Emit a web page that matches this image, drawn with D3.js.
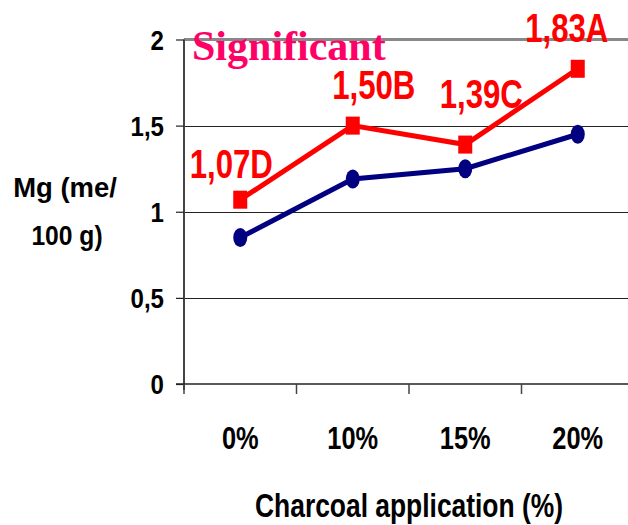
<!DOCTYPE html>
<html>
<head>
<meta charset="utf-8">
<script src="https://cdn.jsdelivr.net/npm/d3@7"></script>
<style>
  html, body { margin: 0; padding: 0; background: #fff; }
  svg { display: block; }
</style>
</head>
<body>
<svg id="chart" width="628" height="525"></svg>
<script>
// Charcoal application rates and Mg content (me/100 g)
const categories = ["0%", "10%", "15%", "20%"];
const seriesBlue = [0.85, 1.19, 1.25, 1.45];
const seriesRed = [1.07, 1.50, 1.39, 1.83];
const redLabels = ["1,07D", "1,50B", "1,39C", "1,83A"];
const yTicks = [0, 0.5, 1, 1.5, 2];
const yTickLabels = ["0", "0,5", "1", "1,5", "2"];

const sans = "'Liberation Sans', Arial, sans-serif";

// squeeze text horizontally around its anchor to get a condensed bold face
function condense(sel, factor) {
  sel.each(function () {
    const t = d3.select(this);
    const px = +t.attr("x") || 0, py = +t.attr("y") || 0;
    const prev = t.attr("transform") || "";
    t.attr("x", 0).attr("y", 0)
      .attr("transform", `${prev} translate(${px},${py}) scale(${factor},1)`);
  });
}

const svg = d3.select("#chart");
const plotLeft = 184, plotRight = 634, plotTop = 39.5, plotBottom = 384;

const x = d3.scaleBand().domain(categories).range([plotLeft, plotRight]).padding(0);
const y = d3.scaleLinear().domain([0, 2]).range([plotBottom, plotTop]);

const g = svg.append("g");

// horizontal gridlines
g.selectAll("line.grid")
  .data(yTicks.filter(t => t > 0 && t < 2))
  .join("line")
  .attr("x1", plotLeft).attr("x2", 628)
  .attr("y1", d => Math.round(y(d)) + 0.5).attr("y2", d => Math.round(y(d)) + 0.5)
  .attr("stroke", "#222").attr("stroke-width", 1.2);

// top border of the plot area
g.append("line")
  .attr("x1", plotLeft).attr("x2", 628)
  .attr("y1", y(2)).attr("y2", y(2))
  .attr("stroke", "#888").attr("stroke-width", 3);

// y axis
const yAxis = d3.axisLeft(y).tickValues(yTicks)
  .tickFormat((d, i) => yTickLabels[i]).tickSize(8).tickPadding(12);
const ya = g.append("g").attr("transform", `translate(${plotLeft},0)`).call(yAxis);
ya.select(".domain").attr("stroke", "#444").attr("stroke-width", 2)
  .attr("d", `M0,${y(2)}V${plotBottom + 6}`);
ya.selectAll(".tick line").attr("stroke", "#222").attr("stroke-width", 1.2);
ya.selectAll(".tick text")
  .attr("font-family", sans).attr("font-weight", "bold")
  .attr("font-size", 28).attr("fill", "#000").attr("dy", "0.35em")
  .call(condense, 0.86);

// x axis with tick marks at category boundaries
const xa = g.append("g").attr("transform", `translate(0,${plotBottom})`);
xa.append("line").attr("x1", plotLeft - 8).attr("x2", 628)
  .attr("y1", 0).attr("y2", 0).attr("stroke", "#222").attr("stroke-width", 1.5);
xa.selectAll("line.xt")
  .data(categories)
  .join("line")
  .attr("x1", d => x(d)).attr("x2", d => x(d))
  .attr("y1", 0).attr("y2", 10)
  .attr("stroke", "#444").attr("stroke-width", 1.5);
xa.selectAll("text.xl")
  .data(categories)
  .join("text")
  .attr("x", d => x(d) + x.bandwidth() / 2)
  .attr("y", 65)
  .attr("text-anchor", "middle")
  .attr("font-family", sans).attr("font-weight", "bold")
  .attr("font-size", 31).attr("fill", "#000")
  .text(d => d)
  .call(condense, 0.82);

// axis titles
svg.append("text")
  .attr("x", 409).attr("y", 517)
  .attr("text-anchor", "middle")
  .attr("font-family", sans).attr("font-weight", "bold")
  .attr("font-size", 33).attr("fill", "#000")
  .text("Charcoal application (%)")
  .call(condense, 0.8);

const yt = svg.append("g")
  .attr("font-family", sans).attr("font-weight", "bold")
  .attr("font-size", 28).attr("fill", "#000");
yt.append("text").attr("x", 65).attr("y", 197).attr("text-anchor", "middle")
  .text("Mg (me/").call(condense, 0.98);
yt.append("text").attr("x", 67).attr("y", 245).attr("text-anchor", "middle")
  .text("100 g)").call(condense, 0.88);

const cx = d => x(d) + x.bandwidth() / 2;

// blue series
const line = d3.line().x((d, i) => cx(categories[i])).y(d => y(d));
g.append("path").datum(seriesBlue)
  .attr("d", line).attr("fill", "none")
  .attr("stroke", "#000080").attr("stroke-width", 5);
g.selectAll("ellipse.b").data(seriesBlue).join("ellipse")
  .attr("cx", (d, i) => cx(categories[i])).attr("cy", d => y(d))
  .attr("rx", 7).attr("ry", 9.5).attr("fill", "#000080");

// red series
g.append("path").datum(seriesRed)
  .attr("d", line).attr("fill", "none")
  .attr("stroke", "#ff0000").attr("stroke-width", 5);
g.selectAll("rect.r").data(seriesRed).join("rect")
  .attr("x", (d, i) => cx(categories[i]) - 7).attr("y", d => y(d) - 9)
  .attr("width", 14).attr("height", 18).attr("fill", "#ff0000");

// value labels for the red series
const labelOffsets = [[-9, -22], [21, -27], [16, -37], [-11, -27]];
g.selectAll("text.rl").data(seriesRed).join("text")
  .attr("x", (d, i) => cx(categories[i]) + labelOffsets[i][0])
  .attr("y", (d, i) => y(d) + labelOffsets[i][1])
  .attr("text-anchor", "middle")
  .attr("font-family", sans).attr("font-weight", "bold")
  .attr("font-size", 40).attr("fill", "#ff0000")
  .text((d, i) => redLabels[i])
  .call(condense, 0.78);

// significance note
svg.append("text")
  .attr("x", 192).attr("y", 60)
  .attr("font-family", "'Liberation Serif', 'Times New Roman', serif")
  .attr("font-weight", "bold").attr("font-size", 42).attr("fill", "#ff0066")
  .text("Significant");
</script>
</body>
</html>
